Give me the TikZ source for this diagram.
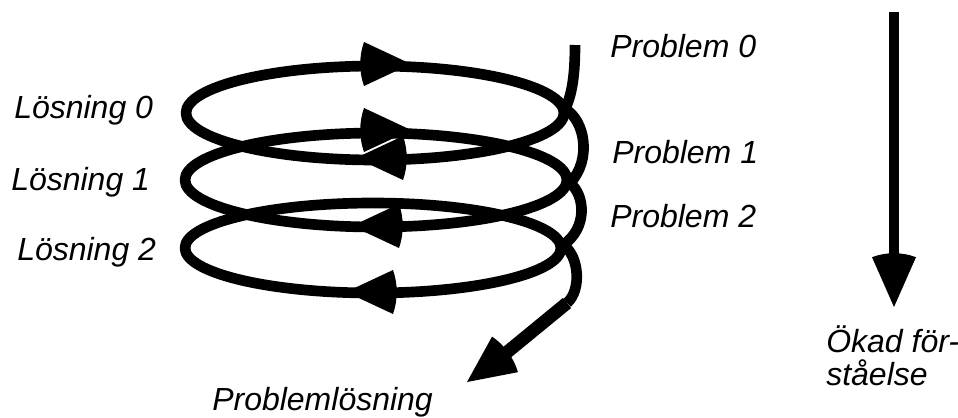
\documentclass[tikz,border=0pt]{standalone}
\usepackage{fontspec}
\setmainfont{Liberation Sans}
\begin{document}
\begin{tikzpicture}[x=0.75pt,y=-0.75pt,
  loop/.style={line width=8pt, line join=round},
  lbl/.style={font=\fontsize{24}{28}\selectfont\itshape, anchor=base west, inner sep=0pt},
  ahead/.pic={\fill (0,0) -- (-47,-22) .. controls (-52,-8) and (-52,8) .. (-47,22) -- cycle;}
]
\useasboundingbox (0,0) rectangle (958,418);

% the three turns of the spiral
\draw[loop] (375,113) ellipse [x radius=189, y radius=47];
\draw[loop] (376,180) ellipse [x radius=191, y radius=47];
\draw[loop] (373,248) ellipse [x radius=188, y radius=45];

% direction marks on the turns
\pic at (411,64) {ahead};
\pic at (411,130) {ahead};
\pic[rotate=180] at (356,158) {ahead};
\pic[rotate=180] at (352,226) {ahead};
\pic[rotate=180] at (346,292) {ahead};

% the descending strand on the right
\coordinate (s0) at (575,45);
\coordinate (c1) at (565,109);
\coordinate (c2) at (570,183);
\coordinate (c3) at (563,245);
\coordinate (s1) at (567,303);
\draw[loop] (s0) .. controls (575,75) and (572,95) .. (c1)
  .. controls (585,120) and (592,160) .. (c2)
  .. controls (585,195) and (588,228) .. (c3)
  .. controls (579,255) and (582,290) .. (s1);

% exit arrow towards the solution
\coordinate (e0) at (500,358);
\draw[line width=9.75pt] (s1) -- (e0);
\pic[rotate=216] at (467,382) {ahead};

% increasing understanding
\coordinate (u0) at (894,12);
\coordinate (u1) at (894,262);
\draw[line width=7pt] (u0) -- (u1);
\pic[rotate=-90, xscale=1.06] at (894,307) {ahead};

% labels
\node[lbl] (p0) at (610,57) {Problem 0};
\node[lbl] (p1) at (612,163) {Problem 1};
\node[lbl] (p2) at (610,227) {Problem 2};
\node[lbl] (l0) at (14,118) {Lösning 0};
\node[lbl] (l1) at (11,190) {Lösning 1};
\node[lbl] (l2) at (17,260) {Lösning 2};
\node[lbl] (pl) at (212,410) {Problemlösning};
\node[lbl] (ok1) at (826,352) {Ökad för-};
\node[lbl] (ok2) at (826,385) {ståelse};
\end{tikzpicture}
\end{document}
